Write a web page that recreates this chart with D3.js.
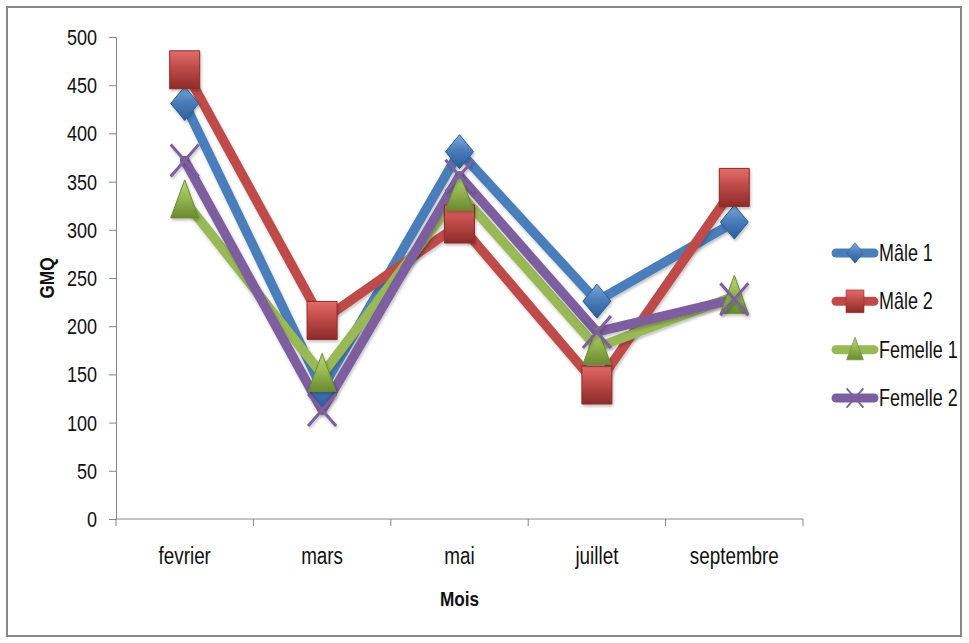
<!DOCTYPE html>
<html>
<head>
<meta charset="utf-8">
<script src="https://cdn.jsdelivr.net/npm/d3@7"></script>
<style>
  body { margin: 0; background: #fff; }
  svg { display: block; font-family: "Liberation Sans", Arial, sans-serif; }
</style>
</head>
<body>
<svg id="chart" width="969" height="643"></svg>
<script>
// Data
const months = ['fevrier', 'mars', 'mai', 'juillet', 'septembre'];
const male1 = [431, 135, 381, 226, 308];
const male2 = [466, 206, 306, 139, 344];
const femelle1 = [330, 150, 338, 178, 231];
const femelle2 = [372, 113, 356, 194, 228];
const yTicks = [0, 50, 100, 150, 200, 250, 300, 350, 400, 450, 500];

const series = [
  { name: 'Mâle 1', values: male1, color: '#4a7ebb', light: '#7fa8dc', dark: '#2c5d96', marker: 'diamond' },
  { name: 'Mâle 2', values: male2, color: '#be4b48', light: '#e36c69', dark: '#8e2b29', marker: 'square' },
  { name: 'Femelle 1', values: femelle1, color: '#98b954', light: '#b9d67a', dark: '#6a8a30', marker: 'triangle' },
  { name: 'Femelle 2', values: femelle2, color: '#7d5fa0', light: '#a48cc4', dark: '#5a3f7e', marker: 'x' },
];

const svg = d3.select('#chart');
const plot = { left: 116, right: 803, top: 37, bottom: 519 };
const NARROW = 0.82;   // the reference font is a condensed one

const x = d3.scaleBand().domain(months).range([plot.left, plot.right]).padding(0);
const y = d3.scaleLinear().domain([0, 500]).range([plot.bottom, plot.top]);
const cx = m => x(m) + x.bandwidth() / 2;

// text drawn with a horizontal squeeze
function label(parent, tx, ty, str, opts = {}) {
  return parent.append('text')
    .attr('transform', `translate(${tx},${ty})${opts.rotate ? ' rotate(-90)' : ''} scale(${opts.narrow || NARROW},1)`)
    .attr('text-anchor', opts.anchor || 'start')
    .attr('font-size', opts.size || 23)
    .attr('font-weight', opts.bold ? 'bold' : null)
    .attr('fill', '#111')
    .text(str);
}

// gradients + shadow
const defs = svg.append('defs');
series.forEach((s, i) => {
  const g = defs.append('linearGradient').attr('id', 'grad' + i)
    .attr('x1', 0).attr('y1', 0).attr('x2', 0).attr('y2', 1);
  g.append('stop').attr('offset', '0%').attr('stop-color', s.light);
  g.append('stop').attr('offset', '45%').attr('stop-color', s.color);
  g.append('stop').attr('offset', '100%').attr('stop-color', s.dark);
});
const shadow = defs.append('filter').attr('id', 'shadow')
  .attr('x', '-20%').attr('y', '-20%').attr('width', '140%').attr('height', '140%');
shadow.append('feDropShadow').attr('dx', 1).attr('dy', 2).attr('stdDeviation', 1.5)
  .attr('flood-color', '#000').attr('flood-opacity', 0.25);

// outer frame
svg.append('rect')
  .attr('x', 7).attr('y', 7).attr('width', 954).attr('height', 629)
  .attr('fill', 'none').attr('stroke', '#888').attr('stroke-width', 2);

// y axis
const yAxis = svg.append('g')
  .attr('transform', `translate(${plot.left},0)`)
  .call(d3.axisLeft(y).tickValues(yTicks).tickSize(7).tickSizeOuter(7).tickFormat(''));
yAxis.select('.domain').attr('stroke', '#868686');
yAxis.selectAll('.tick line').attr('stroke', '#868686');
yTicks.forEach(v => label(svg, 97, y(v) + 8, v, { anchor: 'end', size: 22 }));

// x axis
const xg = svg.append('g');
xg.append('line')
  .attr('x1', plot.left).attr('x2', plot.right)
  .attr('y1', plot.bottom).attr('y2', plot.bottom)
  .attr('stroke', '#868686');
const bounds = months.map(m => x(m)).concat([plot.right]);
xg.selectAll('line.tk').data(bounds).enter().append('line')
  .attr('class', 'tk')
  .attr('x1', d => d).attr('x2', d => d)
  .attr('y1', plot.bottom).attr('y2', plot.bottom + 7)
  .attr('stroke', '#868686');
months.forEach(m => label(xg, cx(m), 564, m, { anchor: 'middle' }));

// axis titles
label(svg, cx('mai'), 606, 'Mois', { anchor: 'middle', bold: true, size: 21 });
label(svg, 54, 278, 'GMQ', { anchor: 'middle', bold: true, size: 21, rotate: true });

// marker shapes (vertically a bit stretched like the reference)
function markerPath(type) {
  switch (type) {
    case 'diamond': return 'M0,-17 L14,0 L0,17 L-14,0 Z';
    case 'square': return 'M-15,-19 L15,-19 L15,19 L-15,19 Z';
    case 'triangle': return 'M0,-21 L14,17 L-14,17 Z';
    default: return 'M-14,-16 L14,16 M14,-16 L-14,16';
  }
}

function drawMarker(sel, s, i) {
  if (s.marker === 'x') {
    sel.append('path').attr('d', markerPath('x'))
      .attr('stroke', s.color).attr('stroke-width', 3).attr('fill', 'none');
  } else {
    sel.append('path').attr('d', markerPath(s.marker))
      .attr('fill', `url(#grad${i})`).attr('stroke', s.dark).attr('stroke-width', 1);
  }
}

const line = d3.line().x((d, i) => cx(months[i])).y(d => y(d));

// lines
svg.append('g').selectAll('path').data(series).enter().append('path')
  .attr('d', d => line(d.values))
  .attr('fill', 'none')
  .attr('stroke', d => d.color)
  .attr('stroke-width', 9.5)
  .attr('stroke-linejoin', 'round')
  .attr('stroke-linecap', 'round')
  .attr('filter', 'url(#shadow)');

// markers
series.forEach((s, i) => {
  const g = svg.append('g').attr('filter', 'url(#shadow)');
  s.values.forEach((v, j) => {
    const m = g.append('g').attr('transform', `translate(${cx(months[j])},${y(v)})`);
    drawMarker(m, s, i);
  });
});

// legend
const legend = svg.append('g');
const legendY = d3.scalePoint().domain(series.map(s => s.name)).range([253, 398]);
series.forEach((s, i) => {
  const ly = legendY(s.name);
  const row = legend.append('g').attr('transform', `translate(0,${ly})`);
  row.append('line')
    .attr('x1', 836).attr('x2', 874).attr('y1', 0).attr('y2', 0)
    .attr('stroke', s.color).attr('stroke-width', 9).attr('stroke-linecap', 'round');
  const m = row.append('g').attr('transform', 'translate(855,0) scale(0.6)');
  drawMarker(m, s, i);
  label(row, 879, 8, s.name, { narrow: 0.78 });
});
</script>
</body>
</html>
